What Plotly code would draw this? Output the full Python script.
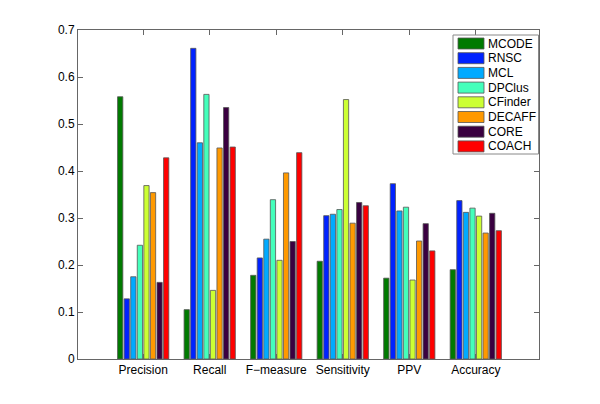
import plotly.graph_objects as go

categories = ["Precision", "Recall", "F\u2212measure", "Sensitivity", "PPV", "Accuracy"]
methods = ["MCODE", "RNSC", "MCL", "DPClus", "CFinder", "DECAFF", "CORE", "COACH"]
MCODE = [0.558, 0.105, 0.178, 0.208, 0.172, 0.190]
RNSC = [0.128, 0.661, 0.215, 0.305, 0.373, 0.337]
MCL = [0.175, 0.460, 0.255, 0.308, 0.315, 0.312]
DPClus = [0.242, 0.563, 0.339, 0.318, 0.323, 0.321]
CFinder = [0.369, 0.146, 0.210, 0.552, 0.168, 0.304]
DECAFF = [0.354, 0.449, 0.396, 0.289, 0.251, 0.268]
CORE = [0.163, 0.535, 0.250, 0.333, 0.288, 0.310]
COACH = [0.428, 0.451, 0.439, 0.326, 0.230, 0.273]
series = [MCODE, RNSC, MCL, DPClus, CFinder, DECAFF, CORE, COACH]
colors = ["#007a00", "#0022ff", "#00aaff", "#44ffbb", "#ccff33", "#ff9900", "#3a0040", "#ff0000"]
yticks = [0, 0.1, 0.2, 0.3, 0.4, 0.5, 0.6, 0.7]

FONT = "Liberation Sans, Arial, Helvetica, sans-serif"
x = list(range(len(categories)))
fig = go.Figure()
for name, vals, c in zip(methods, series, colors):
    fig.add_trace(go.Bar(x=x, y=vals, name=name, showlegend=False,
                         marker=dict(color=c, line=dict(color="#555555", width=0.8))))

# plot area in page pixels (page body has an 8px margin)
PX0, PX1, PY0, PY1 = 78, 539, 30, 359
def px(v):
    return (v - PX0) / (PX1 - PX0)
def py(v):
    return (PY1 - v) / (PY1 - PY0)

shapes = []
annotations = []
# legend box
shapes.append(dict(type="rect", xref="paper", yref="paper",
                   x0=px(453), x1=px(538.5), y0=py(154), y1=py(35),
                   fillcolor="white", line=dict(color="#888888", width=1), layer="above"))
for i, (name, c) in enumerate(zip(methods, colors)):
    cy = 43.5 + i * 14.7
    shapes.append(dict(type="rect", xref="paper", yref="paper",
                       x0=px(458), x1=px(484), y0=py(cy + 5.5), y1=py(cy - 5.5),
                       fillcolor=c, line=dict(color="#555555", width=0.8), layer="above"))
    annotations.append(dict(xref="paper", yref="paper", x=px(486), y=py(cy),
                            xanchor="left", yanchor="middle", text=name, showarrow=False,
                            font=dict(family=FONT, size=12, color="black")))

fig.update_layout(
    width=600, height=404,
    margin=dict(l=70, r=69, t=22, b=53),
    paper_bgcolor="white", plot_bgcolor="white",
    barmode="group", bargap=0.21, bargroupgap=0.2,
    font=dict(family=FONT, size=12, color="black"),
    showlegend=False,
    shapes=shapes, annotations=annotations,
    xaxis=dict(range=[-0.98, 5.95], tickmode="array", tickvals=x, ticktext=categories,
               showline=True, linecolor="#666666", linewidth=1, mirror="ticks",
               ticks="inside", ticklen=5, tickcolor="#666666", showgrid=False, zeroline=False),
    yaxis=dict(range=[0, 0.7], tickmode="array", tickvals=yticks, ticktext=[("%g" % v) for v in yticks],
               showline=True, linecolor="#666666", linewidth=1, mirror="ticks",
               ticks="inside", ticklen=5, tickcolor="#666666", showgrid=False, zeroline=False),
)
fig.write_html("out.html")
